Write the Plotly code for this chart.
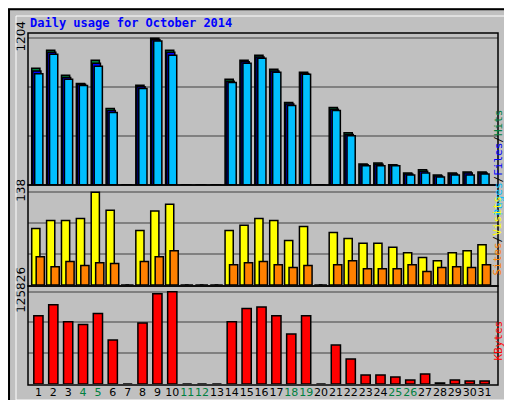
import plotly.graph_objects as go

days = list(range(1, 32))
hits = [957,1105,899,833,1023,627,0,817,1204,1105,0,0,0,866,1023,1064,949,676,924,0,635,429,173,181,165,99,124,82,99,107,107]
files = [935,1088,882,825,998,610,0,805,1190,1088,0,0,0,850,1010,1050,935,665,915,0,622,415,165,170,160,90,112,74,90,98,98]
pages = [912,1072,866,816,973,594,0,792,1180,1064,0,0,0,841,998,1040,924,651,908,0,610,404,157,157,157,82,99,66,82,82,90]
visits = [84,96,96,99,138,111,0,81,110,120,0,0,0,81,89,99,96,66,87,0,78,69,62,62,56,48,41,36,48,51,60]
sites = [42,27,35,29,33,32,0,35,42,51,0,0,0,30,33,35,30,26,29,0,30,36,24,24,24,30,20,26,27,26,30]
kbytes = [93000,108000,85000,81000,96000,60000,0,83000,123000,125826,0,0,0,85000,103000,105000,93000,68000,93000,0,53000,34000,12300,12300,9600,5500,13700,1400,5500,4100,4100]
weekend = {4,5,11,12,18,19,25,26}

fig = go.Figure()
ln = dict(color="black", width=1.5)
def bar(y, color, w, off, ax):
    fig.add_trace(go.Bar(x=days, y=y, width=w, offset=off, marker=dict(color=color, line=ln),
                         xaxis="x", yaxis=ax, showlegend=False, hoverinfo="skip"))
bar(hits, "#008040", 0.55, -0.45, "y")
bar(files, "#0000FF", 0.55, -0.38, "y")
bar(pages, "#00BFFF", 0.55, -0.25, "y")
bar(visits, "#FFFF00", 0.55, -0.45, "y2")
bar(sites, "#FF8000", 0.55, -0.15, "y2")
bar(kbytes, "#FF0000", 0.62, -0.31, "y3")

ticktext = [f'<span style="color:{"#008040" if d in weekend else "black"}">{d}</span>' for d in days]
grid = dict(showgrid=True, gridcolor="#808080", gridwidth=1.5, tickangle=-90, ticks="", automargin=False,
            tickfont=dict(family="DejaVu Sans", size=12, color="black"), zeroline=False)
fig.update_layout(
    width=512, height=400, margin=dict(l=0, r=0, t=0, b=0, autoexpand=False),
    paper_bgcolor="#C0C0C0", plot_bgcolor="#C0C0C0", barmode="overlay",
    xaxis=dict(domain=[20/512, 490/512], range=[0.3, 31.9], tickvals=days, ticktext=ticktext,
               tickangle=0, automargin=False,
               tickfont=dict(family="DejaVu Sans", size=11), anchor="y3", showgrid=False, ticks=""),
    yaxis=dict(domain=[1-177/400, 1-25/400], range=[0, 1204*1.035], tickvals=[401, 802, 1204],
               ticktext=["", "", "1204"], **grid),
    yaxis2=dict(domain=[1-277/400, 1-180/400], range=[0, 138*1.045], tickvals=[46, 92, 138],
                ticktext=["", "", "138"], **grid),
    yaxis3=dict(domain=[1-376/400, 1-280/400], range=[0, 125826*1.04], tickvals=[41942, 83884, 125826],
                ticktext=["", "", "125826"], **grid),
)
fig.add_annotation(text="<b>Daily usage for October 2014</b>", x=20/512, y=1-15/400, xref="paper", yref="paper",
                   xanchor="left", yanchor="middle", showarrow=False,
                   font=dict(family="DejaVu Sans Mono", size=12, color="#0000FF"))
def side(txt, yc):
    fig.add_annotation(text=txt, x=498/512, y=yc, xref="paper", yref="paper", textangle=-90,
                       showarrow=False, font=dict(family="DejaVu Sans Mono", size=11))
side('<span style="color:#00BFFF">Pages</span><span style="color:black">/</span><span style="color:#0000FF">Files</span><span style="color:black">/</span><span style="color:#008040">Hits</span>', 1-100/400)
side('<span style="color:#FF8000">Sites</span><span style="color:black">/</span><span style="color:#FFFF00">Visits</span>', 1-228/400)
side('<span style="color:#FF0000">KBytes</span>', 1-355/400)
shapes = [dict(type="rect", xref="paper", yref="paper", x0=0.002, x1=0.998, y0=0.003, y1=0.997, line=dict(color="black", width=2)),
          dict(type="rect", xref="paper", yref="paper", x0=8/512, x1=504/512, y0=1-392/400, y1=1-8/400, line=dict(color="white", width=1))]
for a, b in [(25, 177), (177, 278), (278, 377)]:
    shapes.append(dict(type="rect", xref="paper", yref="paper", x0=20/512, x1=490/512, y0=1-b/400, y1=1-a/400,
                       line=dict(color="black", width=1.5)))
fig.update_layout(shapes=shapes)
fig.write_html("out.html")
